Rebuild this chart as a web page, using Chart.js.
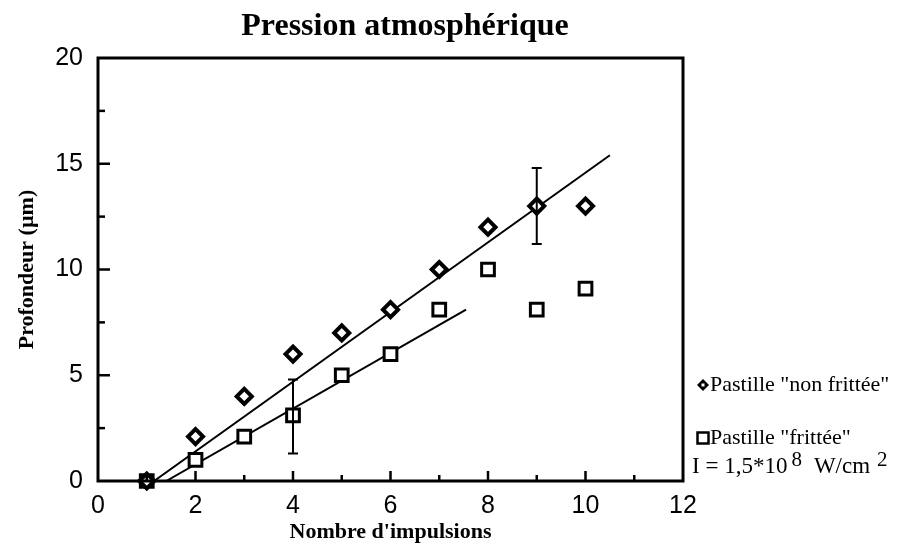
<!DOCTYPE html>
<html>
<head>
<meta charset="utf-8">
<script src="https://cdn.jsdelivr.net/npm/chart.js@4/dist/chart.umd.min.js"></script>
<style>
  html, body { margin: 0; padding: 0; background: #fff; }
  #wrap { width: 920px; height: 555px; }
</style>
</head>
<body>
<div id="wrap"><canvas id="chart" width="920" height="555"></canvas></div>
<script>
// Data
const impulsions = [1, 2, 3, 4, 5, 6, 7, 8, 9, 10];
const nonFrittee = [0, 2.1, 4.0, 6.0, 7.0, 8.1, 10.0, 12.0, 13.0, 13.0];
const frittee = [0, 1.0, 2.1, 3.1, 5.0, 6.0, 8.1, 10.0, 8.1, 9.1];

// fitted lines (end points)
const fitNonX = [1.15, 10.5];
const fitNonY = [0, 15.4];
const fitFritX = [1.4, 7.55];
const fitFritY = [0, 8.1];

// error bars
const errX = [4, 9];
const errLow = [1.3, 11.2];
const errHigh = [4.8, 14.8];

const xTicks = [0, 2, 4, 6, 8, 10, 12];
const yTicks = [0, 5, 10, 15, 20];

const serif = "'Liberation Serif', 'Times New Roman', serif";
const sans = "'Liberation Sans', Arial, sans-serif";

const toPts = (xs, ys) => xs.map((x, i) => ({ x: x, y: ys[i] }));

const framePlugin = {
  id: "frame",
  afterDatasetsDraw(chart) {
    const ctx = chart.ctx;
    const a = chart.chartArea;
    const xs = chart.scales.x;
    const ys = chart.scales.y;
    ctx.save();
    ctx.strokeStyle = "#000";
    ctx.lineCap = "butt";

    // error bars
    ctx.lineWidth = 2;
    errX.forEach((xv, i) => {
      const px = xs.getPixelForValue(xv);
      const top = ys.getPixelForValue(errHigh[i]);
      const bot = ys.getPixelForValue(errLow[i]);
      ctx.beginPath();
      ctx.moveTo(px, top); ctx.lineTo(px, bot);
      ctx.moveTo(px - 5, top); ctx.lineTo(px + 5, top);
      ctx.moveTo(px - 5, bot); ctx.lineTo(px + 5, bot);
      ctx.stroke();
    });

    // inner ticks
    ctx.lineWidth = 2.5;
    for (let v = 1; v < 12; v++) {
      const px = xs.getPixelForValue(v);
      const len = v % 2 === 0 ? 10 : 6;
      ctx.beginPath();
      ctx.moveTo(px, a.bottom); ctx.lineTo(px, a.bottom - len);
      ctx.stroke();
    }
    for (let v = 2.5; v < 20; v += 2.5) {
      const py = ys.getPixelForValue(v);
      const len = v % 5 === 0 ? 12 : 7;
      ctx.beginPath();
      ctx.moveTo(a.left, py); ctx.lineTo(a.left + len, py);
      ctx.stroke();
    }

    // frame
    ctx.lineWidth = 3;
    ctx.strokeRect(a.left, a.top, a.right - a.left, a.bottom - a.top);
    ctx.restore();
  },
  afterDraw(chart) {
    const ctx = chart.ctx;
    const a = chart.chartArea;
    ctx.save();
    ctx.fillStyle = "#000";
    ctx.textBaseline = "middle";

    // title
    ctx.font = "bold 32px " + serif;
    ctx.textAlign = "center";
    ctx.fillText("Pression atmosphérique", 405, 27);

    // legend
    ctx.textAlign = "left";
    ctx.font = "22px " + serif;
    const lx = a.right + 20;
    let ly = 385;
    // diamond marker
    ctx.beginPath();
    ctx.moveTo(lx, ly - 6); ctx.lineTo(lx + 6, ly); ctx.lineTo(lx, ly + 6); ctx.lineTo(lx - 6, ly);
    ctx.closePath();
    ctx.fill();
    ctx.fillStyle = "#fff";
    ctx.fillRect(lx - 1.5, ly - 1.5, 3, 3);
    ctx.fillStyle = "#000";
    ctx.fillText('Pastille "non frittée"', lx + 7, ly);

    ly = 438;
    ctx.lineWidth = 2.5;
    ctx.strokeRect(lx - 5.5, ly - 5.5, 11, 11);
    ctx.fillText('Pastille "frittée"', lx + 7, ly);

    ly = 467;
    ctx.font = "23px " + serif;
    let x = a.right + 9;
    ctx.fillText("I = 1,5*10", x, ly);
    x += ctx.measureText("I = 1,5*10").width + 4;
    ctx.font = "21px " + serif;
    ctx.fillText("8", x, ly - 7);
    x += ctx.measureText("8").width + 12;
    ctx.font = "23px " + serif;
    ctx.fillText("W/cm", x, ly);
    x += ctx.measureText("W/cm").width + 7;
    ctx.font = "21px " + serif;
    ctx.fillText("2", x, ly - 7);
    ctx.restore();
  }
};

new Chart(document.getElementById("chart"), {
  type: "scatter",
  data: {
    datasets: [
      {
        label: 'Pastille "non frittée"',
        data: toPts(impulsions, nonFrittee),
        pointStyle: "rectRot",
        pointRadius: 7.5,
        pointBackgroundColor: "#fff",
        pointBorderColor: "#000",
        pointBorderWidth: 4,
        showLine: false,
        clip: false,
      },
      {
        label: 'Pastille "frittée"',
        data: toPts(impulsions, frittee),
        pointStyle: "rect",
        pointRadius: 9,
        pointBackgroundColor: "#fff",
        pointBorderColor: "#000",
        pointBorderWidth: 3,
        showLine: false,
        clip: false,
      },
      {
        label: "fit non frittée",
        data: toPts(fitNonX, fitNonY),
        showLine: true,
        borderColor: "#000",
        borderWidth: 2,
        pointRadius: 0,
      },
      {
        label: "fit frittée",
        data: toPts(fitFritX, fitFritY),
        showLine: true,
        borderColor: "#000",
        borderWidth: 2,
        pointRadius: 0,
      },
    ],
  },
  options: {
    responsive: false,
    animation: false,
    events: [],
    layout: { padding: { top: 58, right: 237, bottom: 0, left: 0 } },
    plugins: {
      legend: { display: false },
      tooltip: { enabled: false },
      title: { display: false },
    },
    scales: {
      x: {
        type: "linear",
        min: 0,
        max: 12,
        afterBuildTicks: (s) => { s.ticks = xTicks.map((v) => ({ value: v })); },
        afterFit: (s) => { s.height = 74; },
        grid: { display: false, drawTicks: false },
        border: { display: false },
        ticks: { color: "#000", padding: 10, font: { family: sans, size: 25 } },
        title: {
          display: true,
          text: "Nombre d'impulsions",
          color: "#000",
          font: { family: serif, size: 22, weight: "bold" },
          padding: { top: 0, bottom: 9 },
        },
      },
      y: {
        type: "linear",
        min: 0,
        max: 20,
        afterBuildTicks: (s) => { s.ticks = yTicks.map((v) => ({ value: v })); },
        afterFit: (s) => { s.width = 98; },
        grid: { display: false, drawTicks: false },
        border: { display: false },
        ticks: { color: "#000", padding: 15, font: { family: sans, size: 25 } },
        title: {
          display: true,
          text: "Profondeur (µm)",
          color: "#000",
          font: { family: serif, size: 22, weight: "bold" },
          padding: { top: 14, bottom: 0 },
        },
      },
    },
  },
  plugins: [framePlugin],
});
</script>
</body>
</html>
